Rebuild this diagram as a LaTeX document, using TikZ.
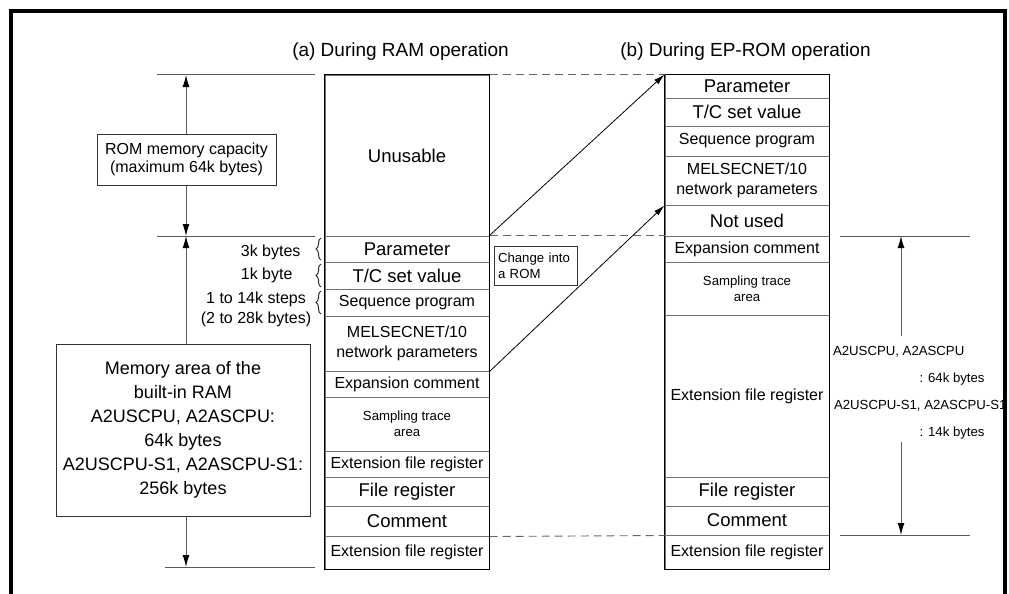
\documentclass[tikz,border=0pt]{standalone}
\usepackage{fontspec}
\setmainfont{Liberation Sans}
\usetikzlibrary{arrows.meta,decorations.pathreplacing}
\begin{document}
\begin{tikzpicture}[x=1pt,y=-1pt,
  row/.style={draw=black!55, line width=1pt, minimum width=164pt, inner sep=0pt, align=center},
  big/.style={font=\fontsize{18.5}{22}\selectfont},
  mid/.style={font=\fontsize{16}{19.5}\selectfont},
  small/.style={font=\fontsize{13.2}{16}\selectfont},
  title/.style={font=\fontsize{19}{23}\selectfont},
  box/.style={draw=black!80, line width=1pt, inner sep=0pt, align=center},
  dim/.style={draw=black!65, line width=1pt},
  tip/.style={-{Latex[length=12pt,width=7pt,color=black]}},
  conn/.style={draw=black, line width=0.8pt, -{Latex[length=11pt,width=6pt]}},
  dashguide/.style={draw=black!60, line width=0.9pt, dash pattern=on 8pt off 5pt},
  brc/.style={draw=black!85, line width=1pt, decorate, decoration={brace, amplitude=5pt}}
]
\useasboundingbox (0,0) rectangle (1009,594);

% titles
\node[title] (ta) at (400.5,52) {(a) During RAM operation};
\node[title] (tb) at (745.5,52) {(b) During EP-ROM operation};

% left memory map
\node[row,big,minimum height=161pt] (Lunus) at (407,155.5) {Unusable};
\node[row,big,minimum height=26pt] (Lpar) at (407,249) {Parameter};
\node[row,big,minimum height=27pt] (Ltc) at (407,275.5) {T/C set value};
\node[row,mid,minimum height=27pt] (Lseq) at (407,302.5) {Sequence program};
\node[row,mid,minimum height=55pt] (Lmel) at (407,343.5) {MELSECNET/10\\network parameters};
\node[row,mid,minimum height=26pt] (Lexp) at (407,384) {Expansion comment};
\node[row,small,minimum height=54pt] (Lsam) at (407,424) {Sampling trace\\area};
\node[row,mid,minimum height=26pt] (Lext) at (407,464) {Extension file register};
\node[row,big,minimum height=29pt] (Lfr) at (407,491.5) {File register};
\node[row,big,minimum height=30pt] (Lcom) at (407,521) {Comment};
\node[row,mid,minimum height=33pt] (Lext2) at (407,552.5) {Extension file register};
\draw[black, line width=1.1pt] (Lunus.north west) rectangle (Lext2.south east);

% right memory map
\node[row,big,minimum height=23pt] (Rpar) at (747,86.5) {Parameter};
\node[row,big,minimum height=28pt] (Rtc) at (747,112) {T/C set value};
\node[row,mid,minimum height=30pt] (Rseq) at (747,141) {Sequence program};
\node[row,mid,minimum height=49pt] (Rmel) at (747,180.5) {MELSECNET/10\\network parameters};
\node[row,big,minimum height=31pt] (Rnot) at (747,220.5) {Not used};
\node[row,mid,minimum height=26pt] (Rexp) at (747,249) {Expansion comment};
\node[row,small,minimum height=53pt] (Rsam) at (747,288.5) {Sampling trace\\area};
\node[row,mid,minimum height=162pt] (Rext) at (747,396) {Extension file register};
\node[row,big,minimum height=29pt] (Rfr) at (747,491.5) {File register};
\node[row,big,minimum height=29pt] (Rcom) at (747,520.5) {Comment};
\node[row,mid,minimum height=34pt] (Rext2) at (747,552) {Extension file register};
\draw[black, line width=1.1pt] (Rpar.north west) rectangle (Rext2.south east);

% dashed guides
\draw[dashguide] (Lunus.north east) -- (Rpar.north west);
\draw[dashguide] (Lpar.north east) -- (Rexp.north west);
\draw[dashguide] (Lcom.south east) -- (Rcom.south west);

% change arrows
\draw[conn] (Lpar.north east) -- (Rpar.north west);
\draw[conn] (Lmel.south east) -- (Rmel.south west);
\node[box,small,minimum width=83pt,minimum height=39pt,text width=75pt,align=left] (chg) at (535.5,265.5) {Change into\\a ROM};

% left size labels and braces
\node[mid,anchor=east] (s1) at (304,252) {3k bytes};
\node[mid,anchor=east] (s2) at (296,275) {1k byte};
\node[mid,align=center,font=\fontsize{16}{20.5}\selectfont] (s3) at (256,309.5) {1 to 14k steps\\(2 to 28k bytes)};
\coordinate (b1a) at (321,260); \coordinate (b1b) at (321,238);
\coordinate (b2a) at (321,287); \coordinate (b2b) at (321,264);
\coordinate (b3a) at (321,314); \coordinate (b3b) at (321,291);
\draw[brc] (b1a) -- (b1b);
\draw[brc] (b2a) -- (b2b);
\draw[brc] (b3a) -- (b3b);

% left dimension
\coordinate (h1a) at (157,75);  \coordinate (h1b) at (315,75);
\coordinate (h2a) at (157,236); \coordinate (h2b) at (315,236);
\coordinate (h3a) at (165,567); \coordinate (h3b) at (315,567);
\draw[dim] (h1a) -- (h1b);
\draw[dim] (h2a) -- (h2b);
\draw[dim] (h3a) -- (h3b);
\coordinate (ltop) at (186,75);
\coordinate (lmid) at (186,236);
\coordinate (lbot) at (186,567);
\node[box,font=\fontsize{16}{18.3}\selectfont,minimum width=179pt,minimum height=51pt] (rom) at (186.5,159.5) {ROM memory capacity\\(maximum 64k bytes)};
\node[box,font=\fontsize{18}{24}\selectfont,minimum width=254pt,minimum height=172pt] (mem) at (183,430) {Memory area of the\\built-in RAM\\A2USCPU, A2ASCPU:\\64k bytes\\A2USCPU-S1, A2ASCPU-S1:\\256k bytes};
\draw[dim,tip] (rom.north -| ltop) -- (ltop);
\draw[dim,tip] (rom.south -| lmid) -- (lmid);
\draw[dim,tip] (mem.north -| lmid) -- (lmid);
\draw[dim,tip] (mem.south -| lbot) -- (lbot);

% right dimension
\coordinate (r1a) at (840,236); \coordinate (r1b) at (970,236);
\coordinate (r2a) at (840,535); \coordinate (r2b) at (970,535);
\draw[dim] (r1a) -- (r1b);
\draw[dim] (r2a) -- (r2b);
\coordinate (rtop) at (901,236); \coordinate (rt2) at (901,336);
\coordinate (rbot) at (901,535); \coordinate (rb2) at (901,442);
\draw[dim,tip] (rt2) -- (rtop);
\draw[dim,tip] (rb2) -- (rbot);
\node[small,anchor=west] (n1) at (829.5,352) {A2USCPU, A2ASCPU};
\node[small,anchor=west] (n2) at (916,379) {: 64k bytes};
\node[small,anchor=west] (n3) at (830.5,406) {A2USCPU-S1, A2ASCPU-S1};
\node[small,anchor=west] (n4) at (916,433) {: 14k bytes};

% frame
\fill[white] (1007,0) rectangle (1009,594);
\draw[black, line width=3.5pt] (11,594) -- (11,11) -- (1005,11) -- (1005,594);
\end{tikzpicture}
\end{document}
